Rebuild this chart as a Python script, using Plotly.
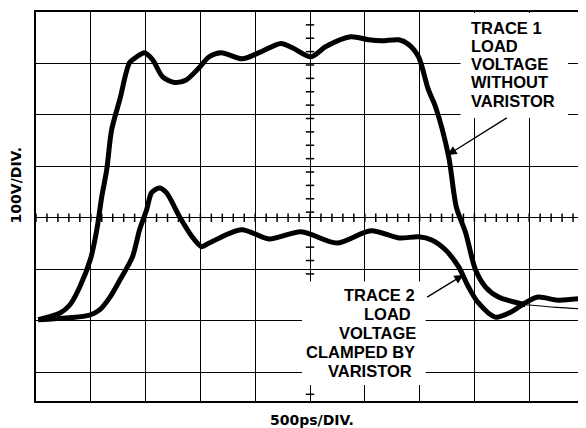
import numpy as np
import plotly.graph_objects as go

# ---- data (time in ns, 500 ps/div; voltage in V, 100 V/div) ----
trace1_time = [0.02, 0.22, 0.31, 0.40, 0.50, 0.555, 0.60, 0.645, 0.69, 0.765, 0.855, 0.92, 0.99,
               1.065, 1.155, 1.265, 1.37, 1.49, 1.58, 1.69, 1.88, 2.035, 2.235, 2.335, 2.51,
               2.645, 2.87, 3.035, 3.155, 3.31, 3.40, 3.49, 3.58, 3.645, 3.765, 3.835, 3.92,
               4.01, 4.10, 4.22, 4.465]
trace1_volts = [-198, -185, -169, -134, -78, -23, 41, 93, 171, 230, 302, 313, 321,
                307, 274, 263, 268, 292, 313, 321, 309, 321, 339, 331, 313,
                333, 352, 346, 344, 346, 337, 313, 249, 216, 119, 21, -29,
                -101, -134, -154, -169]
trace1_tail_time = [4.465, 4.75, 5.0]
trace1_tail_volts = [-169, -174, -177]

trace2_time = [0.02, 0.49, 0.58, 0.675, 0.765, 0.88, 0.945, 1.01, 1.055, 1.125, 1.19, 1.31,
               1.425, 1.51, 1.58, 1.875, 2.125, 2.42, 2.745, 3.055, 3.31, 3.49, 3.61, 3.735,
               3.855, 3.945, 4.035, 4.19, 4.335, 4.465, 4.58, 4.765, 5.0]
trace2_volts = [-198, -189, -179, -154, -121, -76, -23, 16, 49, 58, 49, 2,
                -37, -56, -49, -23, -41, -27, -49, -25, -39, -37, -43, -62,
                -95, -134, -165, -193, -183, -165, -154, -160, -156]

trace1_label = ["TRACE 1", "LOAD", "VOLTAGE", "WITHOUT", "VARISTOR"]
trace2_label = ["TRACE 2", "LOAD", "VOLTAGE", "CLAMPED BY", "VARISTOR"]
x_title = "500ps/DIV."
y_title = "100V/DIV."

# graticule minor tick positions on the centre axes
h_ticks = np.round(np.arange(0, 5.0001, 0.1), 3)
v_ticks = [11 + 26 * k for k in range(15)] + [-31 - 26 * k for k in range(13)]

fig = go.Figure()

# centre-axis minor ticks
fig.add_trace(go.Scatter(x=h_ticks, y=[0] * len(h_ticks), mode="markers",
                         marker=dict(symbol="line-ns", size=6, line=dict(width=1.5, color="black")),
                         hoverinfo="skip"))
fig.add_trace(go.Scatter(x=[2.5] * len(v_ticks), y=v_ticks, mode="markers",
                         marker=dict(symbol="line-ew", size=6, line=dict(width=1.5, color="black")),
                         hoverinfo="skip"))

line_style = dict(color="black", width=5, shape="spline", smoothing=0.8)
fig.add_trace(go.Scatter(x=trace1_tail_time, y=trace1_tail_volts, mode="lines",
                         line=dict(color="black", width=1.1, shape="spline")))
fig.add_trace(go.Scatter(x=trace1_time, y=trace1_volts, mode="lines", line=line_style))
fig.add_trace(go.Scatter(x=trace2_time, y=trace2_volts, mode="lines", line=line_style))

# white label backgrounds
fig.add_shape(type="rect", xref="x", yref="y", x0=3.873, x1=4.855, y0=194, y1=398,
              fillcolor="white", line=dict(width=0), layer="above")
fig.add_shape(type="rect", xref="x", yref="y", x0=2.427, x1=3.555, y0=-325, y1=-124,
              fillcolor="white", line=dict(width=0), layer="above")

lab_font = dict(family="Liberation Sans, Arial, sans-serif", size=16.5, color="black", weight="bold")
t1_y = [368, 333, 298, 263, 228]
for txt, yy in zip(trace1_label, t1_y):
    fig.add_annotation(x=3.961, y=yy, xref="x", yref="y", text=txt, showarrow=False,
                       xanchor="left", yanchor="middle", font=lab_font, borderpad=0)
t2_y = [-150, -187, -224, -261, -298]
t2_x = [3.464, 3.427, 3.473, 3.464, 3.436]
for txt, xx, yy in zip(trace2_label, t2_x, t2_y):
    fig.add_annotation(x=xx, y=yy, xref="x", yref="y", text=txt, showarrow=False,
                       xanchor="right", yanchor="middle", font=lab_font, borderpad=0)

# arrows
fig.add_annotation(x=3.755, y=122, ax=4.309, ay=196, xref="x", yref="y", axref="x", ayref="y",
                   text="", showarrow=True, arrowhead=2, arrowsize=1.4, arrowwidth=1.3,
                   arrowcolor="black")
fig.add_annotation(x=3.9, y=-111, ax=3.555, ay=-156, xref="x", yref="y", axref="x", ayref="y",
                   text="", showarrow=True, arrowhead=2, arrowsize=1.4, arrowwidth=1.3,
                   arrowcolor="black")

ax_font = dict(family="DejaVu Sans, sans-serif", size=14, color="black", weight="bold")
fig.add_annotation(x=0.504, y=-0.049, xref="paper", yref="paper", text=x_title, showarrow=False,
                   xanchor="center", yanchor="middle", font=ax_font)
fig.add_annotation(x=-0.036, y=0.555, xref="paper", yref="paper", text=y_title, showarrow=False,
                   textangle=-90, xanchor="center", yanchor="middle", font=ax_font)

axis_common = dict(showgrid=True, gridcolor="black", gridwidth=1.4, zeroline=False,
                   showticklabels=False, ticks="", showline=True, mirror=True,
                   linecolor="black", linewidth=1.5, fixedrange=True)
fig.update_xaxes(range=[0, 5], dtick=0.5, tick0=0, **axis_common)
fig.update_yaxes(range=[-356, 400], dtick=100, tick0=0, **axis_common)

# page body has an 8px margin, so the figure is sized/margined to land the plot area
# on the same pixels as the reference
fig.update_layout(width=578, height=420, margin=dict(l=28, r=0, t=4, b=27),
                  paper_bgcolor="white", plot_bgcolor="white", showlegend=False)

fig.write_html("out.html")
